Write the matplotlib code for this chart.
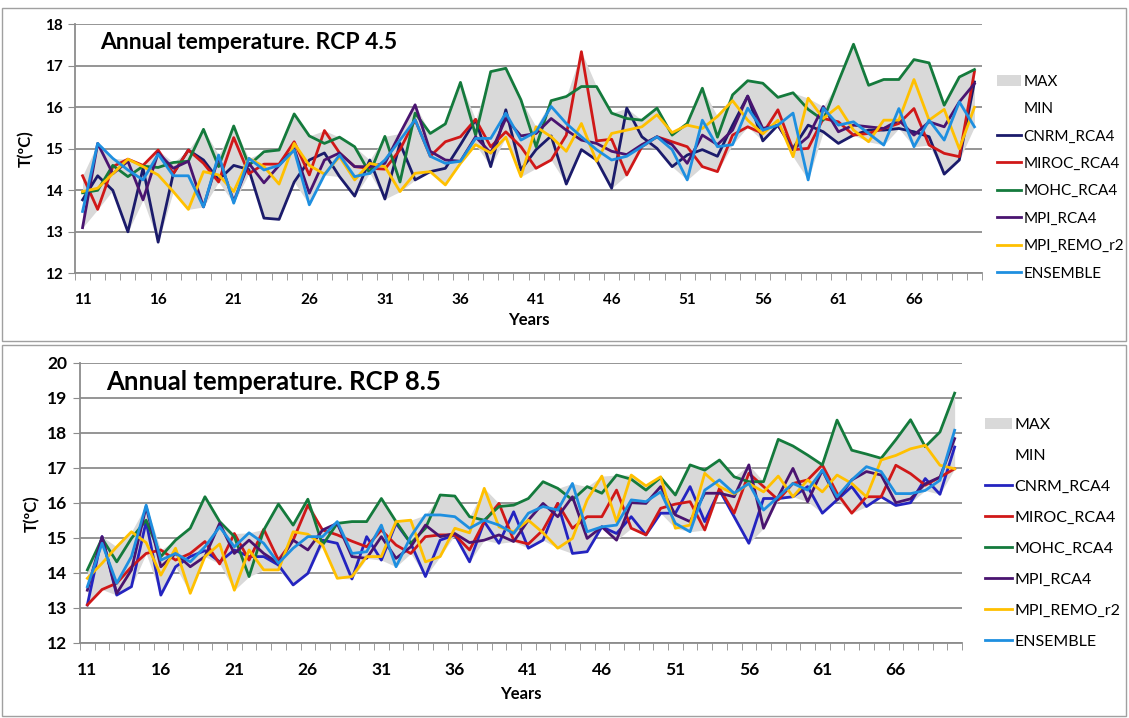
import numpy as np
import matplotlib
matplotlib.use("Agg")
import matplotlib.pyplot as plt
from matplotlib.patches import Patch, Rectangle
from matplotlib.lines import Line2D

plt.rcParams['font.family'] = ['Lato', 'DejaVu Sans']

years = list(range(11, 71))
tick_years = list(range(11, 70, 5))
names = ["CNRM_RCA4", "MIROC_RCA4", "MOHC_RCA4", "MPI_RCA4", "MPI_REMO_r2", "ENSEMBLE"]

# RCP 4.5
cnrm_45 = [13.77, 14.35, 14.0, 13.0, 14.53, 12.75, 14.4, 14.97, 14.73, 14.25, 14.6, 14.5, 13.33, 13.3, 14.2,
           14.73, 14.9, 14.33, 13.86, 14.73, 13.79, 15.13, 14.25, 14.45, 14.53, 15.1, 15.7, 14.57, 15.94, 14.49,
           14.98, 15.31, 14.15, 14.98, 14.73, 14.05, 15.98, 15.29, 15.01, 14.57, 14.85, 14.98, 14.82, 15.57, 16.27,
           15.19, 15.57, 15.01, 15.57, 15.41, 15.13, 15.33, 15.45, 15.45, 15.49, 15.41, 15.29, 14.39, 14.73, 16.61]
miroc_45 = [14.35, 13.54, 14.57, 14.75, 14.6, 14.97, 14.4, 14.97, 14.65, 14.2, 15.27, 14.4, 14.63, 14.63, 15.17,
            14.37, 15.44, 14.9, 14.57, 14.53, 14.51, 14.98, 15.7, 14.82, 15.17, 15.29, 15.71, 15.05, 15.41, 15.05,
            14.53, 14.73, 15.33, 17.34, 15.19, 15.23, 14.37, 15.05, 15.29, 15.17, 15.05, 14.57, 14.45, 15.33, 15.53,
            15.37, 15.94, 14.98, 15.01, 15.73, 15.65, 15.33, 15.37, 15.49, 15.61, 15.97, 15.09, 14.89, 14.81, 16.86]
mohc_45 = [13.94, 14.0, 14.6, 14.33, 14.58, 14.55, 14.67, 14.7, 15.47, 14.57, 15.55, 14.6, 14.93, 14.97, 15.84,
           15.31, 15.13, 15.28, 15.05, 14.41, 15.3, 14.2, 15.86, 15.37, 15.6, 16.6, 15.33, 16.86, 16.94, 16.18,
           15.05, 16.16, 16.26, 16.5, 16.5, 15.86, 15.73, 15.69, 15.98, 15.33, 15.61, 16.46, 15.28, 16.3, 16.64,
           16.58, 16.24, 16.35, 15.95, 15.69, 16.62, 17.52, 16.53, 16.67, 16.67, 17.15, 17.07, 16.05, 16.73, 16.91]
mpi_45 = [13.1, 15.13, 14.4, 14.7, 13.77, 14.9, 14.53, 14.7, 13.6, 14.8, 13.73, 14.65, 14.18, 14.6, 15.0,
          13.93, 14.73, 14.9, 14.57, 14.57, 14.65, 15.37, 16.06, 14.94, 14.73, 14.7, 15.29, 14.9, 15.73, 15.31,
          15.37, 15.73, 15.45, 15.21, 15.13, 14.94, 14.86, 15.1, 15.29, 15.1, 14.65, 15.33, 15.1, 15.45, 16.27,
          15.49, 15.57, 14.98, 15.29, 16.02, 15.41, 15.57, 15.53, 15.49, 15.69, 15.33, 15.65, 15.53, 16.13, 16.57]
remo_45 = [13.97, 14.05, 14.4, 14.75, 14.57, 14.37, 13.97, 13.54, 14.45, 14.37, 13.97, 14.77, 14.57, 14.15, 15.13,
           14.6, 14.39, 14.81, 14.25, 14.65, 14.57, 13.97, 14.41, 14.45, 14.13, 14.65, 15.1, 14.9, 15.28, 14.33,
           15.53, 15.29, 14.94, 15.61, 14.7, 15.37, 15.45, 15.53, 15.82, 15.39, 15.57, 15.49, 15.78, 16.16, 15.69,
           15.36, 15.69, 14.81, 16.22, 15.73, 16.02, 15.45, 15.17, 15.69, 15.69, 16.67, 15.69, 15.95, 15.0, 16.0]
ens_45 = [13.49, 15.13, 14.77, 14.49, 14.25, 14.87, 14.35, 14.35, 13.6, 14.85, 13.69, 14.77, 14.49, 14.6, 14.97,
          13.65, 14.37, 14.85, 14.33, 14.41, 14.73, 15.21, 15.7, 14.82, 14.65, 14.7, 15.25, 15.25, 15.86, 15.21,
          15.41, 16.02, 15.61, 15.29, 14.98, 14.73, 14.82, 15.05, 15.29, 14.98, 14.25, 15.69, 15.05, 15.1, 15.98,
          15.45, 15.57, 15.86, 14.25, 15.98, 15.57, 15.65, 15.37, 15.09, 15.97, 15.05, 15.69, 15.21, 16.13, 15.53]

# RCP 8.5
cnrm_85 = [13.08, 15.03, 13.36, 13.6, 15.46, 13.36, 14.17, 14.46, 14.63, 14.31, 14.65, 14.46, 14.46, 14.22, 13.65,
           13.98, 14.93, 14.84, 13.82, 15.03, 14.36, 15.41, 14.84, 13.89, 14.93, 15.08, 14.31, 15.46, 14.84, 15.74,
           14.7, 14.93, 15.98, 14.55, 14.6, 15.31, 15.12, 15.6, 15.08, 15.7, 15.7, 16.46, 15.46, 16.36, 15.6,
           14.84, 16.12, 16.12, 16.17, 16.46, 15.7, 16.08, 16.46, 15.89, 16.17, 15.92, 16.0, 16.69, 16.24, 17.59]
miroc_85 = [13.08, 13.52, 13.7, 14.17, 14.55, 14.65, 14.36, 14.55, 14.89, 14.25, 15.12, 14.36, 15.24, 14.36, 14.93,
            15.93, 15.22, 15.08, 14.9, 14.74, 15.22, 14.79, 14.55, 15.03, 15.08, 15.08, 14.65, 15.46, 15.98, 14.93,
            14.82, 15.22, 15.98, 15.27, 15.6, 15.6, 16.36, 15.27, 15.08, 15.84, 15.96, 16.03, 15.22, 16.41, 15.7,
            16.84, 16.46, 16.08, 16.55, 16.65, 17.08, 16.27, 15.7, 16.17, 16.17, 17.07, 16.83, 16.5, 16.73, 16.97]
mohc_85 = [14.08, 14.98, 14.31, 14.98, 15.5, 14.46, 14.93, 15.27, 16.17, 15.46, 15.03, 13.89, 15.22, 15.96, 15.36,
           16.1, 14.79, 15.41, 15.46, 15.46, 16.12, 15.46, 14.84, 15.27, 16.22, 16.19, 15.6, 15.5, 15.89, 15.93,
           16.12, 16.6, 16.41, 16.08, 16.46, 16.27, 16.79, 16.67, 16.36, 16.72, 16.22, 17.08, 16.93, 17.22, 16.74,
           16.6, 16.6, 17.81, 17.62, 17.36, 17.08, 18.36, 17.5, 17.39, 17.27, 17.8, 18.37, 17.6, 18.02, 19.13]
mpi_85 = [13.5, 15.03, 13.41, 14.08, 15.89, 14.17, 14.55, 14.17, 14.46, 15.41, 14.55, 14.93, 14.55, 14.27, 14.93,
          14.65, 15.22, 15.41, 14.46, 14.41, 15.03, 14.41, 14.74, 15.36, 15.03, 15.12, 14.86, 14.93, 15.08, 14.89,
          15.5, 15.98, 15.6, 16.17, 14.98, 15.31, 14.93, 16.0, 15.98, 16.46, 15.65, 15.46, 16.27, 16.27, 16.17,
          17.08, 15.27, 16.17, 16.98, 16.03, 16.93, 16.08, 16.65, 16.89, 16.79, 16.0, 16.11, 16.54, 16.73, 17.83]
remo_85 = [13.84, 14.27, 14.74, 15.17, 14.86, 13.93, 14.7, 13.41, 14.46, 14.82, 13.5, 14.65, 14.08, 14.08, 15.17,
           15.1, 14.79, 13.84, 13.89, 14.46, 14.46, 15.46, 15.5, 14.31, 14.46, 15.27, 15.14, 16.41, 15.31, 15.17,
           15.5, 15.14, 14.7, 14.98, 16.08, 16.76, 15.46, 16.79, 16.48, 16.74, 15.27, 15.36, 16.84, 16.46, 16.25,
           16.55, 16.31, 16.76, 16.17, 16.65, 16.31, 16.79, 16.55, 16.17, 17.22, 17.35, 17.54, 17.64, 17.07, 16.97]
ens_85 = [13.6, 14.84, 13.7, 14.46, 15.93, 14.36, 14.55, 14.31, 14.74, 15.31, 14.74, 15.14, 14.84, 14.27, 14.7,
          15.03, 15.03, 15.46, 14.55, 14.6, 15.36, 14.17, 15.03, 15.65, 15.65, 15.6, 15.27, 15.5, 15.36, 15.12,
          15.7, 15.89, 15.79, 16.55, 15.17, 15.31, 15.36, 16.08, 16.03, 16.31, 15.41, 15.17, 16.36, 16.65, 16.27,
          16.55, 15.79, 16.17, 16.55, 16.36, 16.93, 16.17, 16.65, 17.03, 16.89, 16.26, 16.26, 16.35, 16.64, 18.07]

colors_45 = ["#1B1B6B", "#D01818", "#147A3C", "#4A1470", "#FFC000", "#1E8FE0"]
colors_85 = ["#2424C0", "#D01818", "#147A3C", "#4A1470", "#FFC000", "#1E8FE0"]

fig = plt.figure(figsize=(11.29, 7.18), dpi=100)

# panel borders
fig.add_artist(Rectangle((2 / 1129, 1 - 341 / 718), 1124 / 1129, 333 / 718, transform=fig.transFigure,
                         fill=False, ec="#A0A0A0", lw=1))
fig.add_artist(Rectangle((2 / 1129, 1 - 716 / 718), 1124 / 1129, 371 / 718, transform=fig.transFigure,
                         fill=False, ec="#A0A0A0", lw=1))


def draw(ax, data, colors, ylo, yhi, title, title_pos, tsize, lsize, xpad, xlpad, ly):
    arr = np.vstack(data)
    ax.fill_between(years, arr.min(axis=0), arr.max(axis=0), color="#D9D9D9", lw=0, zorder=1)
    for vals, c in zip(data, colors):
        ax.plot(years, vals, color=c, lw=2.0, zorder=3)
    ax.set_xlim(10.5, 70.5)
    ax.set_ylim(ylo, yhi)
    ax.set_yticks(range(ylo, yhi + 1))
    ax.set_xticks(tick_years)
    ax.set_xticks(np.arange(10.5, 71, 1), minor=True)
    ax.tick_params(axis="x", which="major", length=0, pad=xpad, labelsize=lsize)
    ax.tick_params(axis="x", which="minor", length=5, color="#8C8C8C", direction="out")
    ax.tick_params(axis="y", length=5, color="#8C8C8C", labelsize=lsize, pad=4)
    for lab in ax.get_xticklabels() + ax.get_yticklabels():
        lab.set_fontweight("bold")
    ax.grid(axis="y", color="#8C8C8C", lw=1.3, zorder=0)
    ax.set_axisbelow(True)
    for s in ["top", "right"]:
        ax.spines[s].set_visible(False)
    for s in ["left", "bottom"]:
        ax.spines[s].set_color("#8C8C8C")
        ax.spines[s].set_linewidth(1.3)
    ax.text(title_pos[0], title_pos[1], title, transform=ax.transAxes, fontsize=tsize,
            fontweight="bold", va="center", ha="left", zorder=5)
    ax.set_xlabel("Years", fontweight="bold", fontsize=12, labelpad=xlpad)
    ax.set_ylabel("T(ºC)", fontweight="bold", fontsize=12, labelpad=6)
    ax.yaxis.set_label_coords(-0.045, ly)


ax1 = fig.add_axes([75 / 1129, 1 - 273.3 / 718, 907 / 1129, 249 / 718])
draw(ax1, [cnrm_45, miroc_45, mohc_45, mpi_45, remo_45, ens_45], colors_45, 12, 18,
     "Annual temperature. RCP 4.5", (0.028, 0.925), 16.5, 11, 14, 4, 0.5)

ax2 = fig.add_axes([80 / 1129, 1 - 642.7 / 718, 882 / 1129, 280 / 718])
draw(ax2, [cnrm_85, miroc_85, mohc_85, mpi_85, remo_85, ens_85], colors_85, 12, 20,
     "Annual temperature. RCP 8.5", (0.030, 0.932), 18.5, 12.5, 14, 6, 0.46)


def legend_handles(colors):
    h = [Patch(facecolor="#D9D9D9", edgecolor="none"), Patch(facecolor="none", edgecolor="none")]
    h += [Line2D([0], [0], color=c, lw=2.0) for c in colors]
    return h


labels = ["MAX", "MIN"] + names
fig.legend(legend_handles(colors_45), labels, loc="upper left", bbox_to_anchor=(997 / 1129, 1 - 74.5 / 718),
           frameon=False, fontsize=11, handlelength=1.6, handletextpad=0.15, labelspacing=0.88,
           borderaxespad=0, borderpad=0)
fig.legend(legend_handles(colors_85), labels, loc="upper left", bbox_to_anchor=(985 / 1129, 1 - 418 / 718),
           frameon=False, fontsize=11.5, handlelength=1.7, handletextpad=0.15, labelspacing=1.05,
           borderaxespad=0, borderpad=0)

fig.savefig("out.png", dpi=100)
